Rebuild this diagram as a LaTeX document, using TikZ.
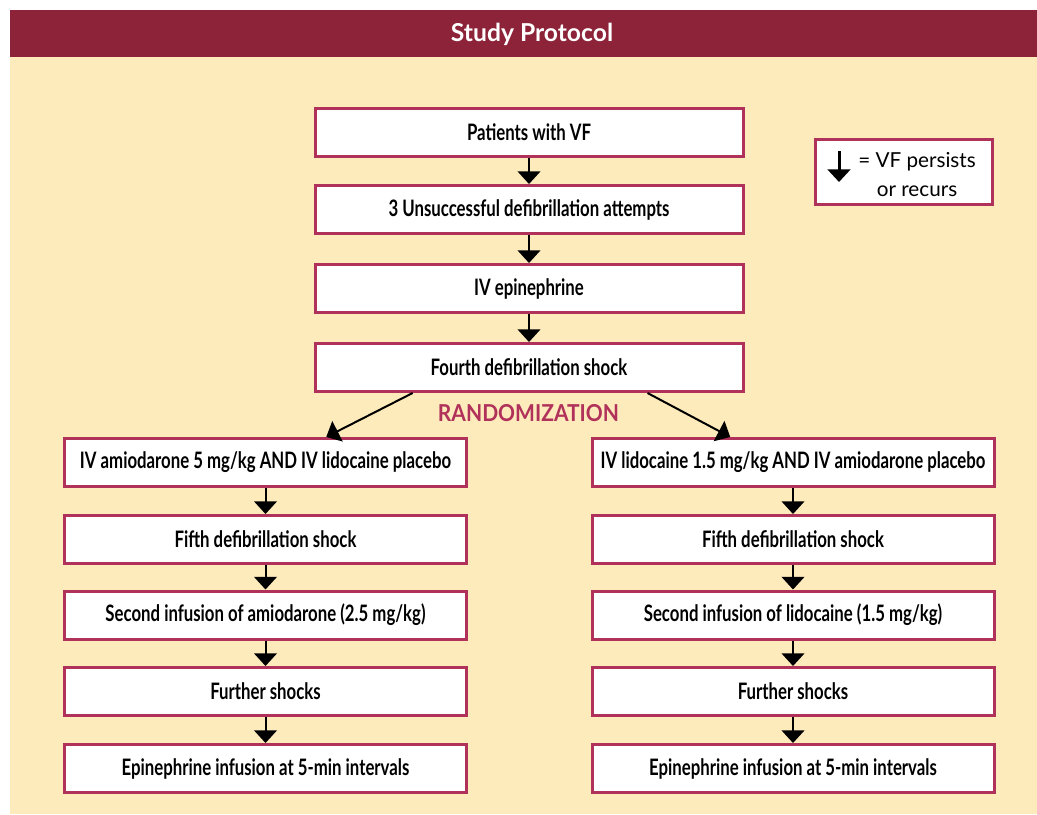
\documentclass[tikz,border=0pt]{standalone}
\usepackage{fontspec}
\setmainfont{Lato}
\newfontfamily\boxfont{Lato}[FakeStretch=0.74]
\newfontfamily\headfont{Lato}[FakeStretch=0.9]
\usepackage{tikz}
\usetikzlibrary{arrows.meta}
\usetikzlibrary{calc}
\definecolor{panelbg}{HTML}{FEEBBC}
\definecolor{titlebar}{HTML}{8C2339}
\definecolor{boxred}{HTML}{B0325A}
\tikzstyle{stepbox}=[rectangle,draw=boxred,fill=white,line width=2.25pt,minimum height=36pt,inner sep=0pt,font=\boxfont\bfseries\fontsize{17}{19}\selectfont]
\tikzstyle{midbox}=[stepbox,minimum width=321pt]
\tikzstyle{armbox}=[stepbox,minimum width=301.5pt]
\tikzstyle{edge} = [draw,line width=1.5pt,-{Triangle[width=17pt,length=9.5pt]}]
\tikzset{keybox/.style={rectangle,draw=boxred,fill=white,line width=2.25pt,inner sep=0pt}}

\begin{document}
\begin{tikzpicture}[x=0.75pt,y=-0.75pt]

  \useasboundingbox (0,0) rectangle (1037,814);
  \fill[panelbg] (10,10) rectangle (1037,814);
  \fill[titlebar] (10,10) rectangle (1037,57);
  \node[font=\bfseries\fontsize{18.5}{20}\selectfont,text=white] (title) at (532,34) {Study Protocol};

   \foreach \x/\y/\name/\label in {529/132/vf/{Patients with VF}, 529/209.5/three/{3 Unsuccessful defibrillation attempts}, 529/288.5/epi/{IV epinephrine}, 529/367.5/fourth/{Fourth defibrillation shock}}
          \node[midbox] (\name) at (\x,\y) {\label};

   \foreach \x/\y/\name/\label in {265.5/462.5/a1/{IV amiodarone 5 mg/kg AND IV lidocaine placebo}, 265.5/539.5/a2/{Fifth defibrillation shock}, 265.5/615/a3/{Second infusion of amiodarone (2.5 mg/kg)}, 265.5/691.5/a4/{Further shocks}, 265.5/768.5/a5/{Epinephrine infusion at 5-min intervals}}
          \node[armbox] (\name) at (\x,\y) {\label};

   \foreach \x/\y/\name/\label in {793/462.5/b1/{IV lidocaine 1.5 mg/kg AND IV amiodarone placebo}, 793/539.5/b2/{Fifth defibrillation shock}, 793/615/b3/{Second infusion of lidocaine (1.5 mg/kg)}, 793/691.5/b4/{Further shocks}, 793/768.5/b5/{Epinephrine infusion at 5-min intervals}}
          \node[armbox] (\name) at (\x,\y) {\label};

  \node[font=\headfont\bfseries\fontsize{17.5}{20}\selectfont,text=boxred] (rand) at (528.5,413) {RANDOMIZATION};

  % key
  \node[keybox,minimum width=132.75pt,minimum height=48.75pt] (key) at (904,172) {};
  \coordinate (keytop) at (839,151);
  \coordinate (keytip) at (839,182);
  \path[edge,line width=2.25pt] (keytop) -- (keytip);
  \node[align=center,inner sep=0pt,font=\fontsize{15.5}{21.75}\selectfont] (keytext) at (917,175) {= VF persists\\or recurs};

  \foreach \source/ \dest in {vf/three, three/epi, epi/fourth, a1/a2, a2/a3, a3/a4, a4/a5, b1/b2, b2/b3, b3/b4, b4/b5}
         \path[edge] (\source) -- (\dest);

  \path[edge] ($(fourth.south west)!0.23!(fourth.south east)$) -- ($(a1.north west)!0.65!(a1.north east)$);
  \path[edge] ($(fourth.south west)!0.775!(fourth.south east)$) -- ($(b1.north west)!0.345!(b1.north east)$);

\end{tikzpicture}
\end{document}
